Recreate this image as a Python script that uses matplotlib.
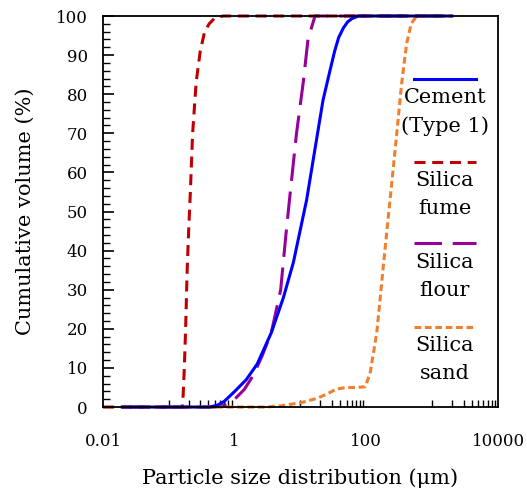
#!/usr/bin/env python3
"""Cumulative particle size distribution of the mix constituents."""

import matplotlib
matplotlib.use("Agg")
import matplotlib.pyplot as plt
from matplotlib.ticker import FixedLocator, NullFormatter, FixedFormatter

# particle size (um) / cumulative volume (%)
cement_d = [0.02, 0.42, 0.55, 0.7, 1.0, 1.5, 2.2, 3.6, 5.5, 7.8, 12.4, 16.6, 22, 28, 33, 38, 45, 52, 60, 76, 2000]
cement_v = [0, 0, 0.5, 1.5, 4, 7, 11, 19, 28, 37, 53, 66, 78.5, 86, 91, 94.5, 97, 98.5, 99.3, 100, 100]

fume_d = [0.01, 0.16, 0.165, 0.172, 0.18, 0.19, 0.2, 0.21, 0.23, 0.26, 0.30, 0.35, 0.41, 0.5, 0.67, 2000]
fume_v = [0, 0, 3, 10, 20, 35, 45, 53, 70, 83, 91, 96, 98, 99.5, 100, 100]

flour_d = [0.02, 0.5, 0.7, 1.0, 1.4, 1.9, 2.6, 3.6, 5.0, 6.0, 7.0, 8.7, 11, 13, 16.6, 2000]
flour_v = [0, 0, 0.5, 2, 4.5, 8, 13, 19, 30, 44, 55, 70, 83, 94, 100, 100]

sand_d = [0.02, 3.0, 5, 10, 17.6, 25, 35, 50, 70, 96, 114, 144, 181, 229, 290, 345, 410, 480, 580, 2000]
sand_v = [0, 0, 0.3, 1.1, 2.2, 3.3, 4.6, 5, 5, 5.2, 8.6, 19, 36, 53, 70, 83, 93, 98, 100, 100]

labels = ["Cement\n(Type 1)", "Silica\nfume", "Silica\nflour", "Silica\nsand"]
colors = ["#0000ff", "#c00000", "#990099", "#f08030"]

x_ticks = [0.01, 1, 100, 10000]
x_ticklabels = ["0.01", "1", "100", "10000"]

plt.rcParams["font.family"] = ["DejaVu Serif"]
plt.rcParams["font.size"] = 12

fig = plt.figure(figsize=(5.27, 4.94), dpi=100)
ax = fig.add_axes([0.1954, 0.176, 0.7496, 0.7916])

lw = 2.2
styles = [
    dict(linestyle="-"),
    dict(linestyle=(0, (3.6, 2.2))),
    dict(linestyle=(0, (9, 3.5))),
    dict(linestyle=(0, (2.2, 1.2))),
]
series = [(cement_d, cement_v), (fume_d, fume_v), (flour_d, flour_v), (sand_d, sand_v)]
lines = []
for (d, v), c, st in zip(series, colors, styles):
    (ln,) = ax.plot(d, v, color=c, lw=lw, clip_on=False, **st)
    lines.append(ln)
# cement drawn on top like the original
lines[0].set_zorder(2.5)

ax.set_xscale("log")
ax.set_xlim(0.01, 10000)
ax.set_ylim(0, 100)

ax.xaxis.set_major_locator(FixedLocator(x_ticks))
ax.xaxis.set_major_formatter(FixedFormatter(x_ticklabels))
minor = [m * k for m in (0.01, 1, 100) for k in range(10, 100, 10)]
ax.xaxis.set_minor_locator(FixedLocator(minor))
ax.xaxis.set_minor_formatter(NullFormatter())
ax.tick_params(axis="x", which="major", direction="in", length=0, pad=19)
ax.tick_params(axis="x", which="minor", direction="in", length=5, width=1)

ax.yaxis.set_major_locator(FixedLocator(range(0, 101, 10)))
ax.yaxis.set_minor_locator(FixedLocator(range(0, 101, 2)))
ax.tick_params(axis="y", which="major", direction="in", length=8, width=1.2, pad=11)
ax.tick_params(axis="y", which="minor", direction="in", length=5, width=1)

for sp in ax.spines.values():
    sp.set_linewidth(1.3)

ax.set_xlabel("Particle size distribution (\u03bcm)", fontsize=15, labelpad=13)
ax.set_ylabel("Cumulative volume (%)", fontsize=15, labelpad=15)

# legend: handle above a centred two-line label
hx0, hx1 = 0.787, 0.944
hy = [0.839, 0.627, 0.419, 0.205]
for y, lab, c, st in zip(hy, labels, colors, styles):
    ax.plot([hx0, hx1], [y, y], transform=ax.transAxes, color=c, lw=lw, **st)
    ax.text((hx0 + hx1) / 2, y - 0.024, lab, transform=ax.transAxes,
            ha="center", va="top", fontsize=15, linespacing=1.6)

fig.savefig("out.png", dpi=100)
